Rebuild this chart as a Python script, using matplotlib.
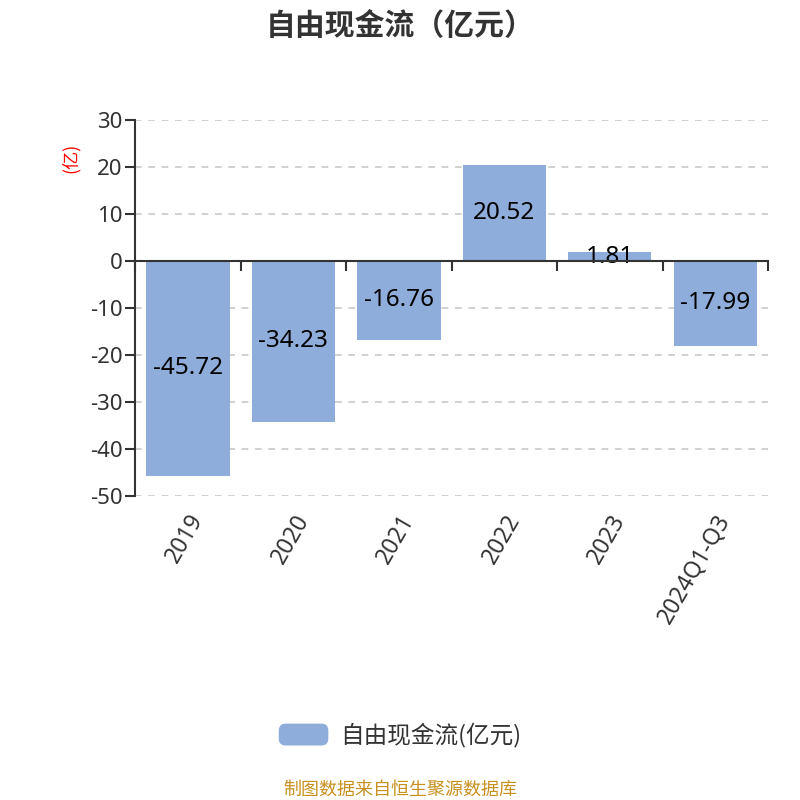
import matplotlib
matplotlib.use("Agg")
import matplotlib.pyplot as plt
from matplotlib.patches import FancyBboxPatch
from matplotlib.legend_handler import HandlerPatch

plt.rcParams["font.family"] = ["Noto Sans", "Noto Sans CJK SC", "DejaVu Sans"]
plt.rcParams["axes.unicode_minus"] = False

categories = ["2019", "2020", "2021", "2022", "2023", "2024Q1-Q3"]
values = [-45.72, -34.23, -16.76, 20.52, 1.81, -17.99]
y_ticks = [30, 20, 10, 0, -10, -20, -30, -40, -50]

bar_color = "#8eaddb"
text_color = "#333333"
cjk = ["Noto Sans CJK SC", "DejaVu Sans"]

fig = plt.figure(figsize=(8, 8), dpi=100)
ax = fig.add_axes([0.169, 0.38, 0.791, 0.47])

x = list(range(len(categories)))
bars = ax.bar(x, values, width=0.79, color=bar_color, label="自由现金流(亿元)", zorder=2)

for xi, v in zip(x, values):
    ax.text(xi, v / 2, f"{v:.2f}", ha="center", va="center", fontsize=17.5, color="black", zorder=3)

ax.set_xlim(-0.5, len(categories) - 0.5)
ax.set_ylim(-50, 30)
ax.set_yticks(y_ticks)
ax.set_yticklabels([str(t) for t in y_ticks], fontsize=16, color=text_color)
ax.yaxis.grid(True, linestyle=(0, (4, 4)), color="#c8c8c8", linewidth=1.2, zorder=0)

# category axis line sits on zero, boundary ticks point down
ax.spines["right"].set_visible(False)
ax.spines["bottom"].set_visible(False)
ax.spines["top"].set_position(("data", 0))
ax.spines["top"].set_color(text_color)
ax.spines["top"].set_linewidth(1.5)
ax.spines["top"].set_zorder(4)
ax.spines["left"].set_color(text_color)
ax.spines["left"].set_linewidth(1.5)

ax.set_xticks(x)
ax.set_xticklabels(categories, rotation=60, ha="right", rotation_mode="anchor",
                   fontsize=16.5, color=text_color)
ax.set_xticks([i - 0.5 for i in range(len(categories) + 1)], minor=True)
ax.tick_params(axis="x", which="major", length=0, pad=10, bottom=True, top=False)
ax.tick_params(axis="x", which="minor", length=7, width=1.5, direction="in",
               top=True, bottom=False, color=text_color, labelbottom=False)
ax.tick_params(axis="y", length=7, width=1.5, color=text_color, pad=2)

ax.set_ylabel("(亿)", color="red", fontsize=13, labelpad=2, family=cjk)
ax.yaxis.set_label_coords(-0.088, 0.9)

fig.text(0.5, 0.967, "自由现金流（亿元）", ha="center", va="center",
         fontsize=21.5, fontweight="bold", color=text_color, family=cjk)


class RoundHandler(HandlerPatch):
    def create_artists(self, legend, orig_handle, xdescent, ydescent, width, height, fontsize, trans):
        p = FancyBboxPatch((-xdescent, -ydescent), width, height,
                           boxstyle="round,pad=0,rounding_size=5",
                           facecolor=bar_color, edgecolor="none", transform=trans)
        return [p]


fig.legend(handles=[bars.patches[0]], labels=["自由现金流(亿元)"], loc="center",
           bbox_to_anchor=(0.5, 0.081), frameon=False,
           prop={"family": cjk, "size": 17},
           handler_map={bars.patches[0]: RoundHandler()},
           handlelength=2.1, handleheight=1.05, handletextpad=0.5,
           labelcolor=text_color)

fig.text(0.5, 0.013, "制图数据来自恒生聚源数据库", ha="center", va="center",
         fontsize=13, color="#c8901e", family=cjk)

fig.savefig("out.png", dpi=100)
